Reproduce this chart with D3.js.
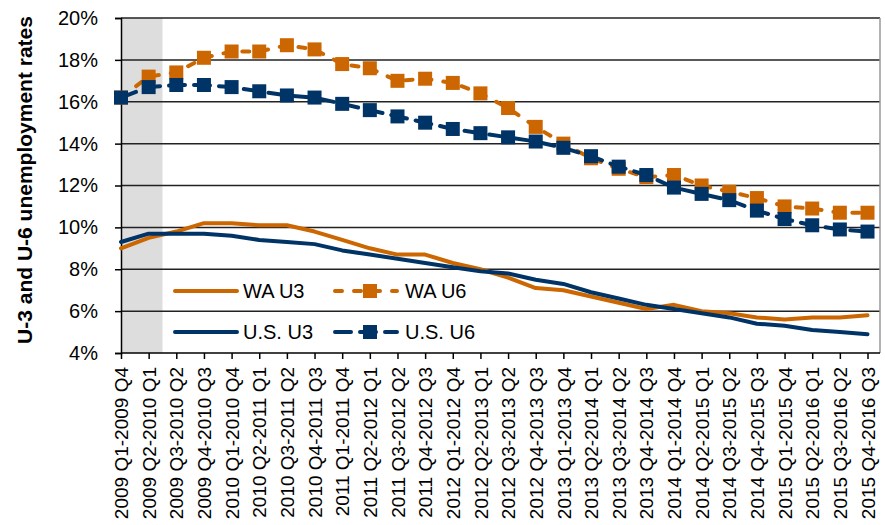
<!DOCTYPE html>
<html>
<head>
<meta charset="utf-8">
<script src="https://cdn.jsdelivr.net/npm/d3@7"></script>
<style>
  body { margin: 0; background: #fff; }
  text { font-family: "Liberation Sans", Arial, sans-serif; }
</style>
</head>
<body>
<div id="chart"></div>
<script>
// Data
const periods = [
  '2009 Q1-2009 Q4', '2009 Q2-2010 Q1', '2009 Q3-2010 Q2', '2009 Q4-2010 Q3',
  '2010 Q1-2010 Q4', '2010 Q2-2011 Q1', '2010 Q3-2011 Q2', '2010 Q4-2011 Q3',
  '2011 Q1-2011 Q4', '2011 Q2-2012 Q1', '2011 Q3-2012 Q2', '2011 Q4-2012 Q3',
  '2012 Q1-2012 Q4', '2012 Q2-2013 Q1', '2012 Q3-2013 Q2', '2012 Q4-2013 Q3',
  '2013 Q1-2013 Q4', '2013 Q2-2014 Q1', '2013 Q3-2014 Q2', '2013 Q4-2014 Q3',
  '2014 Q1-2014 Q4', '2014 Q2-2015 Q1', '2014 Q3-2015 Q2', '2014 Q4-2015 Q3',
  '2015 Q1-2015 Q4', '2015 Q2-2016 Q1', '2015 Q3-2016 Q2', '2015 Q4-2016 Q3'
];
const waU3 = [9.0, 9.5, 9.8, 10.2, 10.2, 10.1, 10.1, 9.8, 9.4, 9.0, 8.7, 8.7, 8.3, 8.0,
  7.6, 7.1, 7.0, 6.7, 6.4, 6.1, 6.3, 6.0, 5.9, 5.7, 5.6, 5.7, 5.7, 5.8];
const waU6 = [16.2, 17.2, 17.4, 18.1, 18.4, 18.4, 18.7, 18.5, 17.8, 17.6, 17.0, 17.1, 16.9, 16.4,
  15.7, 14.8, 14.0, 13.3, 12.8, 12.4, 12.5, 12.0, 11.7, 11.4, 11.0, 10.9, 10.7, 10.7];
const usU3 = [9.3, 9.7, 9.7, 9.7, 9.6, 9.4, 9.3, 9.2, 8.9, 8.7, 8.5, 8.3, 8.1, 7.9,
  7.8, 7.5, 7.3, 6.9, 6.6, 6.3, 6.1, 5.9, 5.7, 5.4, 5.3, 5.1, 5.0, 4.9];
const usU6 = [16.2, 16.7, 16.8, 16.8, 16.7, 16.5, 16.3, 16.2, 15.9, 15.6, 15.3, 15.0, 14.7, 14.5,
  14.3, 14.1, 13.8, 13.4, 12.9, 12.5, 11.9, 11.6, 11.3, 10.8, 10.4, 10.1, 9.9, 9.8];
const yTicks = [4, 6, 8, 10, 12, 14, 16, 18, 20];
const recessionEnd = 1.5; // shading up to the middle of the 2nd and 3rd period

const orange = '#CC6600';
const navy = '#003366';

// Dimensions
const dims = {
  width: 885,
  height: 525,
  left: 121,
  right: 880,
  top: 18,
  bottom: 353,
  lastX: 867.5
};

const svg = d3.select('#chart')
  .append('svg')
  .attr('width', dims.width)
  .attr('height', dims.height);

// Scales
const xScale = d3.scalePoint()
  .domain(periods)
  .range([dims.left, dims.lastX]);
const step = xScale.step();

const yScale = d3.scaleLinear()
  .domain([4, 20])
  .range([dims.bottom, dims.top]);

// recession shading
svg.append('rect')
  .attr('x', dims.left)
  .attr('y', dims.top)
  .attr('width', step * recessionEnd)
  .attr('height', dims.bottom - dims.top)
  .attr('fill', '#DDDDDD');

// gridlines
svg.append('g')
  .selectAll('line')
  .data(yTicks.filter(d => d > 4))
  .join('line')
  .attr('x1', dims.left)
  .attr('x2', dims.right)
  .attr('y1', d => yScale(d))
  .attr('y2', d => yScale(d))
  .attr('stroke', '#222')
  .attr('stroke-width', 1.5);

// right border
svg.append('line')
  .attr('x1', dims.right).attr('x2', dims.right)
  .attr('y1', dims.top).attr('y2', dims.bottom)
  .attr('stroke', '#999')
  .attr('stroke-width', 1.5);

// axes
const yAxis = d3.axisLeft(yScale)
  .tickValues(yTicks)
  .tickSize(6)
  .tickPadding(17)
  .tickFormat(d => d + '%');

const yAxisGroup = svg.append('g')
  .attr('transform', `translate(${dims.left},0)`)
  .call(yAxis);
yAxisGroup.select('.domain').attr('stroke', '#000').attr('stroke-width', 1.5);
yAxisGroup.selectAll('.tick line').attr('stroke', '#000').attr('stroke-width', 1.5);
yAxisGroup.selectAll('.tick text')
  .attr('font-size', 20)
  .attr('font-family', '"Liberation Sans", Arial, sans-serif')
  .attr('fill', '#000');

const xAxis = d3.axisBottom(xScale)
  .tickSize(6)
  .tickSizeOuter(0);

const xAxisGroup = svg.append('g')
  .attr('transform', `translate(0,${dims.bottom})`)
  .call(xAxis);
xAxisGroup.select('.domain')
  .attr('d', `M${dims.left},0H${dims.right}`)
  .attr('stroke', '#000').attr('stroke-width', 1.5);
xAxisGroup.selectAll('.tick line').attr('stroke', '#000').attr('stroke-width', 1.5);
xAxisGroup.selectAll('.tick text')
  .attr('font-size', 19)
  .attr('font-family', '"Liberation Sans", Arial, sans-serif')
  .attr('fill', '#000')
  .attr('transform', 'rotate(-90)')
  .attr('text-anchor', 'end')
  .attr('x', -14)
  .attr('y', 0)
  .attr('dy', '0.35em');

svg.append('text')
  .attr('transform', 'translate(32,180) rotate(-90)')
  .attr('text-anchor', 'middle')
  .attr('font-size', 21)
  .attr('font-weight', 'bold')
  .text('U-3 and U-6 unemployment rates');

// lines
const lineGenerator = d3.line()
  .x((d, i) => xScale(periods[i]))
  .y(d => yScale(d));

const series = [
  { name: 'WA U3', values: waU3, color: orange, dash: null, marker: false },
  { name: 'U.S. U3', values: usU3, color: navy, dash: null, marker: false },
  { name: 'WA U6', values: waU6, color: orange, dash: '7,12', marker: true },
  { name: 'U.S. U6', values: usU6, color: navy, dash: '16,9', marker: true }
];

series.forEach(s => {
  svg.append('path')
    .datum(s.values)
    .attr('d', lineGenerator)
    .attr('fill', 'none')
    .attr('stroke', s.color)
    .attr('stroke-width', 4)
    .attr('stroke-linecap', 'round')
    .attr('stroke-linejoin', 'round')
    .attr('stroke-dasharray', s.dash);

  if (s.marker) {
    svg.append('g')
      .selectAll('rect')
      .data(s.values)
      .join('rect')
      .attr('x', (d, i) => xScale(periods[i]) - 7)
      .attr('y', d => yScale(d) - 7)
      .attr('width', 14)
      .attr('height', 14)
      .attr('fill', s.color);
  }
});

// legend
const legendSlots = [
  { s: series[0], x: 173, y: 291 },
  { s: series[2], x: 333, y: 291 },
  { s: series[1], x: 173, y: 332 },
  { s: series[3], x: 333, y: 332 }
];

legendSlots.forEach(({ s, x, y }) => {
  const g = svg.append('g').attr('transform', `translate(${x},${y})`);
  g.append('line')
    .attr('x1', 2).attr('x2', 64)
    .attr('y1', 0).attr('y2', 0)
    .attr('stroke', s.color)
    .attr('stroke-width', 4)
    .attr('stroke-linecap', 'round')
    .attr('stroke-dasharray', s.dash);
  if (s.marker) {
    g.append('rect')
      .attr('x', 30).attr('y', -7)
      .attr('width', 14).attr('height', 14)
      .attr('fill', s.color);
  }
  g.append('text')
    .attr('x', s.marker ? 72 : 70)
    .attr('y', 0)
    .attr('dy', '0.35em')
    .attr('font-size', 20)
    .text(s.name);
});
</script>
</body>
</html>
